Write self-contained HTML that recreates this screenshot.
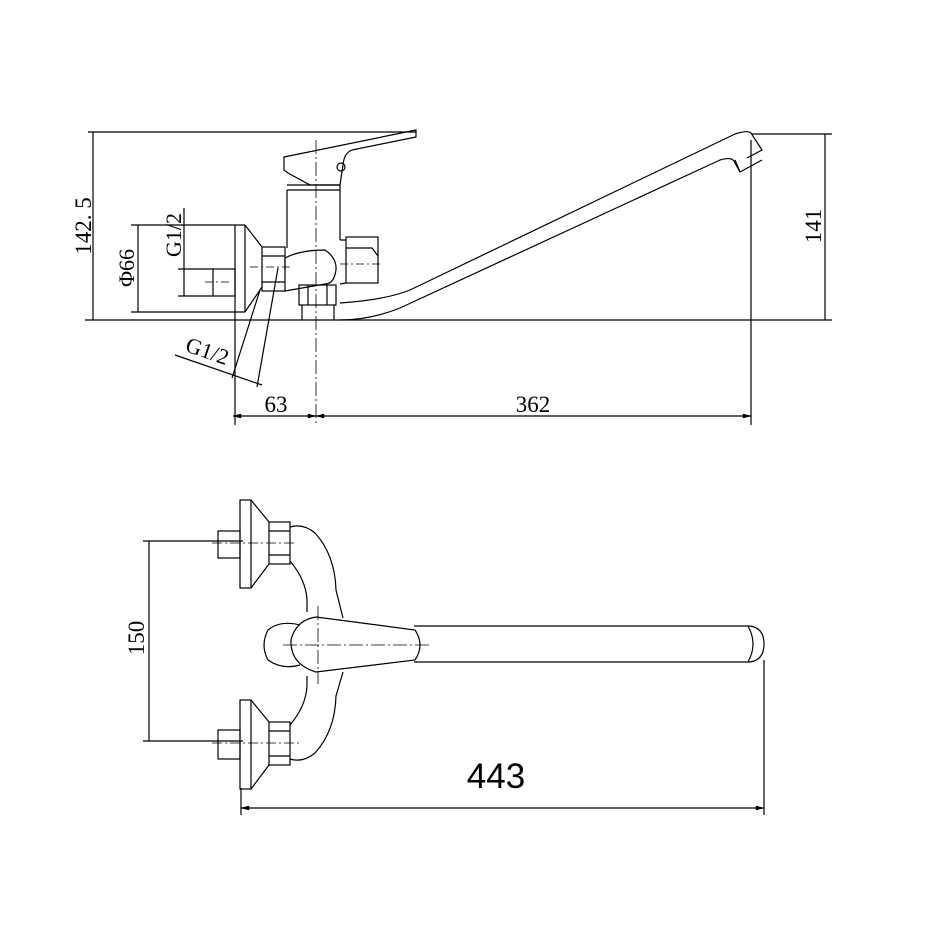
<!DOCTYPE html>
<html><head><meta charset="utf-8"><style>
html,body{margin:0;padding:0;background:#fff;width:931px;height:931px;overflow:hidden}
svg{display:block}
text{font-family:"Liberation Serif",serif;fill:#000}
</style></head><body>
<svg width="931" height="931" viewBox="0 0 931 931" xmlns="http://www.w3.org/2000/svg">
<g fill="none" stroke="#000" stroke-width="1.2">
<!-- TOP VIEW dimension lines -->
<line x1="88" y1="132" x2="416" y2="132"/>
<line x1="93" y1="132" x2="93" y2="320"/>
<line x1="85" y1="320" x2="832" y2="320"/>
<line x1="752" y1="134" x2="832" y2="134"/>
<line x1="825" y1="134" x2="825" y2="320"/>
<!-- phi66 -->
<line x1="131" y1="225" x2="245" y2="225"/>
<line x1="131" y1="312" x2="245" y2="312"/>
<line x1="138" y1="225" x2="138" y2="312"/>
<!-- G1/2 upper -->
<line x1="178" y1="269" x2="213" y2="269"/>
<line x1="178" y1="296" x2="213" y2="296"/>
<line x1="184" y1="208" x2="184" y2="296"/>
<!-- plate -->
<line x1="235" y1="225" x2="235" y2="425"/>
<line x1="245" y1="225" x2="245" y2="312"/>
<path d="M245 225 L262 247 M245 312 L262 287"/>
<rect x="213" y="269" width="22" height="27"/>
<line x1="205" y1="282" x2="232" y2="282" stroke-dasharray="8 3 2 3" stroke-width="0.8"/>
<!-- nut -->
<rect x="262" y="247" width="23" height="44"/>
<line x1="262" y1="256" x2="285" y2="256"/><line x1="262" y1="282" x2="285" y2="282"/>
<line x1="250" y1="267" x2="290" y2="267" stroke-dasharray="8 3 2 3" stroke-width="0.8"/>
<!-- body -->
<path d="M287 190 L287 248 M340 190 L340 240 M287 185 L340 185 L340 190 L287 190"/>
<path d="M285 270 L285 258 Q300 250 325 250 Q337 258 336 270 Q334 284 325 284 L285 291"/>
<path d="M340 240 L346 240"/>
<rect x="346" y="237" width="32" height="46"/>
<path d="M346 248 L372 248 L378 256"/>
<line x1="340" y1="264" x2="383" y2="264" stroke-dasharray="8 3 2 3" stroke-width="0.8"/>
<path d="M340 284 L346 283"/>
<!-- handle -->
<path d="M284 157 L416 130 L416 137 L352 150 Q344 153 343 165 L340 185 L310 185 L288 173 L284 170 Z"/>
<circle cx="341" cy="167" r="4"/>
<!-- lower nut -->
<rect x="299" y="285" width="37" height="20"/>
<line x1="308" y1="285" x2="308" y2="305"/><line x1="327" y1="285" x2="327" y2="305"/>
<path d="M302 305 L302 320 M334 305 L334 320"/>
<!-- centerline -->
<line x1="316" y1="140" x2="316" y2="425" stroke-dasharray="14 3 2 3" stroke-width="0.8"/>
<!-- spout -->
<path d="M340 303 Q385 300 410 290 L735 134 Q748 130 751 133 L762 150 L747 158"/>
<path d="M340 320 Q370 320 400 308 L720 160 Q733 156 735 163 L740 172 L762 160"/>
<path d="M735 160 L740 172"/>
<line x1="751" y1="140" x2="751" y2="425"/>
<!-- bottom dimension -->
<line x1="233" y1="416" x2="751" y2="416"/>
<path d="M233 416 l8 -2 v4 z M316 416 l-8 -2 v4 z M316 416 l8 -2 v4 z M751 416 l-8 -2 v4 z" fill="#000" stroke-width="0.5"/>
<!-- G1/2 diagonal -->
<line x1="232" y1="378" x2="260" y2="290"/>
<line x1="257" y1="387" x2="278" y2="268"/>
<line x1="175" y1="355" x2="262" y2="385"/>
<!-- BOTTOM VIEW -->
<rect x="240" y="500" width="11" height="88"/>
<path d="M251 500 L269 522 M251 588 L269 564"/>
<rect x="218" y="531" width="22" height="27"/>
<rect x="269" y="522" width="21" height="42"/>
<line x1="269" y1="531" x2="290" y2="531"/><line x1="269" y1="555" x2="290" y2="555"/>
<rect x="240" y="700" width="11" height="89"/>
<path d="M251 700 L269 722 M251 789 L269 765"/>
<rect x="218" y="730" width="22" height="29"/>
<rect x="269" y="722" width="21" height="43"/>
<line x1="269" y1="731" x2="290" y2="731"/><line x1="269" y1="756" x2="290" y2="756"/>
<line x1="143" y1="541" x2="243" y2="541"/>
<line x1="143" y1="741" x2="243" y2="741"/>
<line x1="149" y1="541" x2="149" y2="741"/>
<line x1="212" y1="543" x2="295" y2="543" stroke-dasharray="10 3 2 3" stroke-width="0.8"/>
<line x1="212" y1="743" x2="300" y2="743" stroke-dasharray="10 3 2 3" stroke-width="0.8"/>
<!-- body S curves -->
<path d="M290 527 Q303 523 315 533 Q335 555 336 590 L343 618"/>
<path d="M290 561 Q306 580 307 600 L307 612"/>
<path d="M290 759 Q303 763 315 753 Q335 731 336 696 L343 672"/>
<path d="M290 725 Q306 706 307 686 L307 676"/>
<!-- handle -->
<path d="M300 625 Q280 620 268 630 Q260 645 268 660 Q282 670 300 665"/>
<path d="M316 617 Q296 620 291 640 Q290 664 316 672 L415 660 Q425 645 415 630 Z"/>
<!-- spout -->
<path d="M414 626 L750 626 Q764 628 764 644 Q764 660 750 662 L414 662"/>
<path d="M748 626 Q758 644 748 662"/>
<line x1="283" y1="645" x2="430" y2="645" stroke-dasharray="14 3 2 3" stroke-width="0.8"/>
<line x1="318" y1="606" x2="318" y2="684" stroke-dasharray="14 3 2 3" stroke-width="0.8"/>
<line x1="241" y1="788" x2="241" y2="815"/>
<line x1="764" y1="660" x2="764" y2="815"/>
<line x1="241" y1="808" x2="764" y2="808"/>
<path d="M241 808 l8 -2 v4 z M764 808 l-8 -2 v4 z" fill="#000" stroke-width="0.5"/>
</g>
<text x="0" y="0" font-size="23" text-anchor="middle" transform="translate(91,226) rotate(-90)">142. 5</text>
<text x="0" y="0" font-size="22" text-anchor="middle" transform="translate(134,268) rotate(-90)">Φ66</text>
<text x="0" y="0" font-size="22" text-anchor="middle" transform="translate(181,235) rotate(-90)">G1/2</text>
<text x="0" y="0" font-size="23" text-anchor="middle" transform="translate(821,226) rotate(-90)">141</text>
<text x="0" y="0" font-size="22" text-anchor="middle" transform="translate(205,358) rotate(19)">G1/2</text>
<text x="276" y="412" font-size="23" text-anchor="middle">63</text>
<text x="533" y="412" font-size="23" text-anchor="middle">362</text>
<text x="0" y="0" font-size="23" text-anchor="middle" transform="translate(144,638) rotate(-90)">150</text>
<text x="496" y="788" font-size="35" text-anchor="middle" style="font-family:'Liberation Sans',sans-serif">443</text>
</svg>
</body></html>
